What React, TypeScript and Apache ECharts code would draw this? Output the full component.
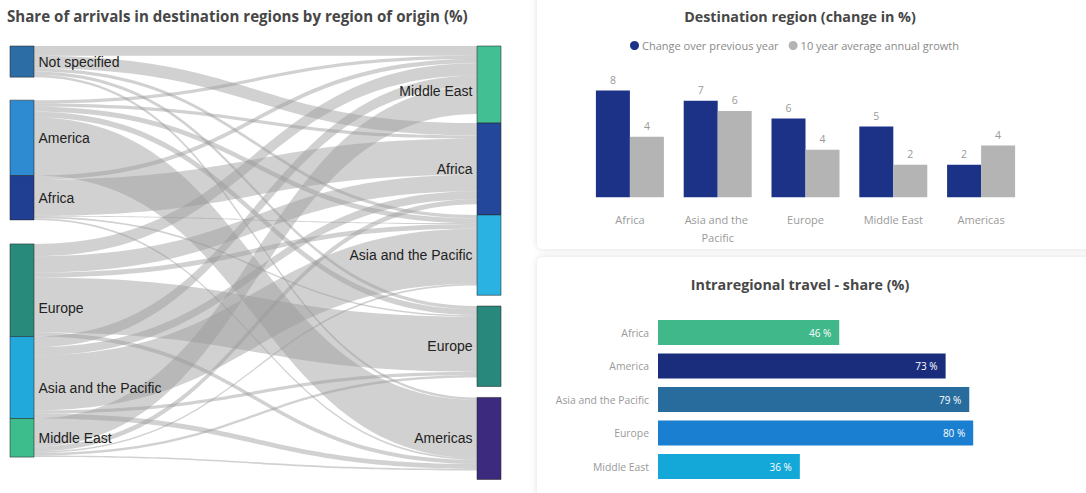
import React, { useEffect, useRef } from "react";
import * as echarts from "echarts";

// ---------- DATA ----------
const originNames = ["Not specified", "America", "Africa", "Europe", "Asia and the Pacific", "Middle East"];
const originTotals = [38, 92, 54, 113, 100, 47];
const destNames = ["Middle East", "Africa", "Asia and the Pacific", "Europe", "Americas"];
const destTotals = [94, 112, 98, 98, 100];
// rows: origin, columns: destination (Middle East, Africa, Asia and the Pacific, Europe, Americas)
const flowMatrix = [
  [12, 15, 4, 4, 3],
  [4, 4, 6, 7, 71],
  [5, 44, 1, 2, 2],
  [15, 20, 6, 67, 5],
  [13, 10, 67, 4, 6],
  [34, 6, 2, 3, 2],
];

const barCategories = ["Africa", "Asia and the Pacific", "Europe", "Middle East", "Americas"];
const changePrevYear = [7.85, 7.1, 5.8, 5.2, 2.4];
const tenYearAvg = [4.45, 6.35, 3.5, 2.4, 3.8];
const barSeriesNames = ["Change over previous year", "10 year average annual growth"];

const intraCategories = ["Africa", "America", "Asia and the Pacific", "Europe", "Middle East"];
const intraShare = [46, 73, 79, 80, 36];

// ---------- STYLE / LAYOUT ----------
const originColors = ["#2d6da6", "#2e8bd2", "#203f93", "#288a7b", "#22a9dc", "#3dbd8c"];
const destColors = ["#43c093", "#23479a", "#2ab2e2", "#27887b", "#3c2a7e"];
const intraColors = ["#40b88a", "#1a2d7c", "#276c9c", "#1a7fd0", "#14a8d8"];
const SK = { left: 10, top: 46, width: 491, height: 433, nodeWidth: 24 };
const PX_PER_UNIT = 0.82;
const leftGapBefore = [0, 23, 0, 24, 0, 0];
const rightGapBefore = [0, 0, 0, 10.8, 11];
const leftLabelDy = [0, 0, 0, 18, 10, 0];
const rightLabelDy = [6, 0, 0, 0, 0];

function stackLocalY(values: number[], gaps: number[]) {
  const out: number[] = [];
  let y = 0;
  values.forEach((v, i) => {
    y += gaps[i];
    out.push(y / SK.height);
    y += v * PX_PER_UNIT;
  });
  return out;
}

function buildOption() {
  const leftY = stackLocalY(originTotals, leftGapBefore);
  const rightY = stackLocalY(destTotals, rightGapBefore);
  const sumDest = destTotals.reduce((a, b) => a + b, 0);
  const nodeGap = (SK.height - sumDest * PX_PER_UNIT) / (destNames.length - 1);

  const nodes: any[] = [];
  originNames.forEach((n, i) => {
    nodes.push({
      name: "o:" + n,
      value: originTotals[i],
      localY: leftY[i],
      itemStyle: { color: originColors[i] },
      label: { position: "right", formatter: n, offset: [0, leftLabelDy[i]] },
    });
  });
  destNames.forEach((n, i) => {
    nodes.push({
      name: "d:" + n,
      value: destTotals[i],
      localY: rightY[i],
      itemStyle: { color: destColors[i] },
      label: { position: "left", formatter: n, offset: [0, rightLabelDy[i]] },
    });
  });
  const links: any[] = [];
  flowMatrix.forEach((row, oi) => {
    row.forEach((v, di) => {
      links.push({ source: "o:" + originNames[oi], target: "d:" + destNames[di], value: v });
    });
  });

  return {
    animation: false,
    textStyle: { fontFamily: "Open Sans" },
    graphic: [
      {
        type: "rect",
        z: -10,
        shape: { x: 537, y: -10, width: 560, height: 259, r: 6 },
        style: { fill: "#fff", shadowBlur: 6, shadowColor: "rgba(0,0,0,0.13)" },
      },
      {
        type: "rect",
        z: -10,
        shape: { x: 537, y: 257, width: 560, height: 250, r: 6 },
        style: { fill: "#fff", shadowBlur: 6, shadowColor: "rgba(0,0,0,0.13)" },
      },
      {
        type: "text",
        x: 7,
        y: 16,
        style: {
          text: "Share of arrivals in destination regions by region of origin (%)",
          font: 'bold 15.1px "Open Sans"',
          fill: "#474747",
          verticalAlign: "middle",
        },
      },
      {
        type: "text",
        x: 800,
        y: 16,
        style: { text: "Destination region (change in %)", font: 'bold 14.3px "Open Sans"', fill: "#474747", align: "center", verticalAlign: "middle" },
      },
      {
        type: "text",
        x: 800,
        y: 284,
        style: { text: "Intraregional travel - share (%)", font: 'bold 14.3px "Open Sans"', fill: "#474747", align: "center", verticalAlign: "middle" },
      },
    ],
    legend: {
      data: barSeriesNames,
      left: 630,
      top: 40,
      padding: 0,
      icon: "circle",
      itemWidth: 9,
      itemHeight: 9,
      itemGap: 10,
      textStyle: { color: "#8a8a8a", fontSize: 11, fontFamily: "Open Sans", padding: [0, 0, 0, -2] },
    },
    grid: [
      { left: 586, top: 88.5, width: 439, height: 108.8 },
      { left: 658, top: 315.75, width: 394, height: 167.5 },
    ],
    xAxis: [
      {
        gridIndex: 0,
        type: "category",
        data: barCategories,
        axisLine: { show: false },
        axisTick: { show: false },
        axisLabel: { interval: 0, color: "#9a9a9a", fontSize: 11, margin: 13, lineHeight: 18, width: 80, overflow: "break" },
      },
      { gridIndex: 1, type: "value", min: 0, max: 100, show: false },
    ],
    yAxis: [
      { gridIndex: 0, type: "value", min: 0, max: 8, show: false },
      {
        gridIndex: 1,
        type: "category",
        inverse: true,
        data: intraCategories,
        axisLine: { show: false },
        axisTick: { show: false },
        axisLabel: { interval: 0, color: "#9a9a9a", fontSize: 10.4, margin: 9 },
      },
    ],
    series: [
      {
        type: "sankey",
        left: SK.left,
        top: SK.top,
        width: SK.width,
        height: SK.height,
        nodeWidth: SK.nodeWidth,
        nodeGap,
        nodeAlign: "justify",
        layoutIterations: 0,
        draggable: false,
        emphasis: { disabled: true },
        data: nodes,
        links,
        itemStyle: { borderColor: "rgba(40,40,40,0.55)", borderWidth: 1 },
        lineStyle: { color: "#9a9a9a", opacity: 0.45, curveness: 0.5 },
        label: { color: "#222", fontSize: 14, fontFamily: "Liberation Sans", distance: 4 },
      },
      {
        type: "bar",
        name: barSeriesNames[0],
        xAxisIndex: 0,
        yAxisIndex: 0,
        data: changePrevYear,
        barWidth: 34,
        barGap: "0%",
        itemStyle: { color: "#1b3287" },
        label: { show: true, position: "top", distance: 5, color: "#9a9a9a", fontSize: 10.5, formatter: (p: any) => String(Math.round(p.value)) },
      },
      {
        type: "bar",
        name: barSeriesNames[1],
        xAxisIndex: 0,
        yAxisIndex: 0,
        data: tenYearAvg,
        barWidth: 34,
        barGap: "0%",
        itemStyle: { color: "#b4b4b4" },
        label: { show: true, position: "top", distance: 5, color: "#9a9a9a", fontSize: 10.5, formatter: (p: any) => String(Math.round(p.value)) },
      },
      {
        type: "bar",
        xAxisIndex: 1,
        yAxisIndex: 1,
        barWidth: 25,
        data: intraShare.map((v, i) => ({ value: v, itemStyle: { color: intraColors[i] } })),
        label: { show: true, position: "insideRight", distance: 8, color: "#fff", fontSize: 10, formatter: "{c} %" },
      },
    ],
  };
}

export default function App() {
  const ref = useRef<HTMLDivElement>(null);
  useEffect(() => {
    document.body.style.margin = "0";
    const chart = echarts.init(ref.current!, undefined, { renderer: "svg" });
    chart.setOption(buildOption() as any);
    return () => chart.dispose();
  }, []);
  return <div ref={ref} style={{ width: 1086, height: 493, background: "#fff" }} />;
}
